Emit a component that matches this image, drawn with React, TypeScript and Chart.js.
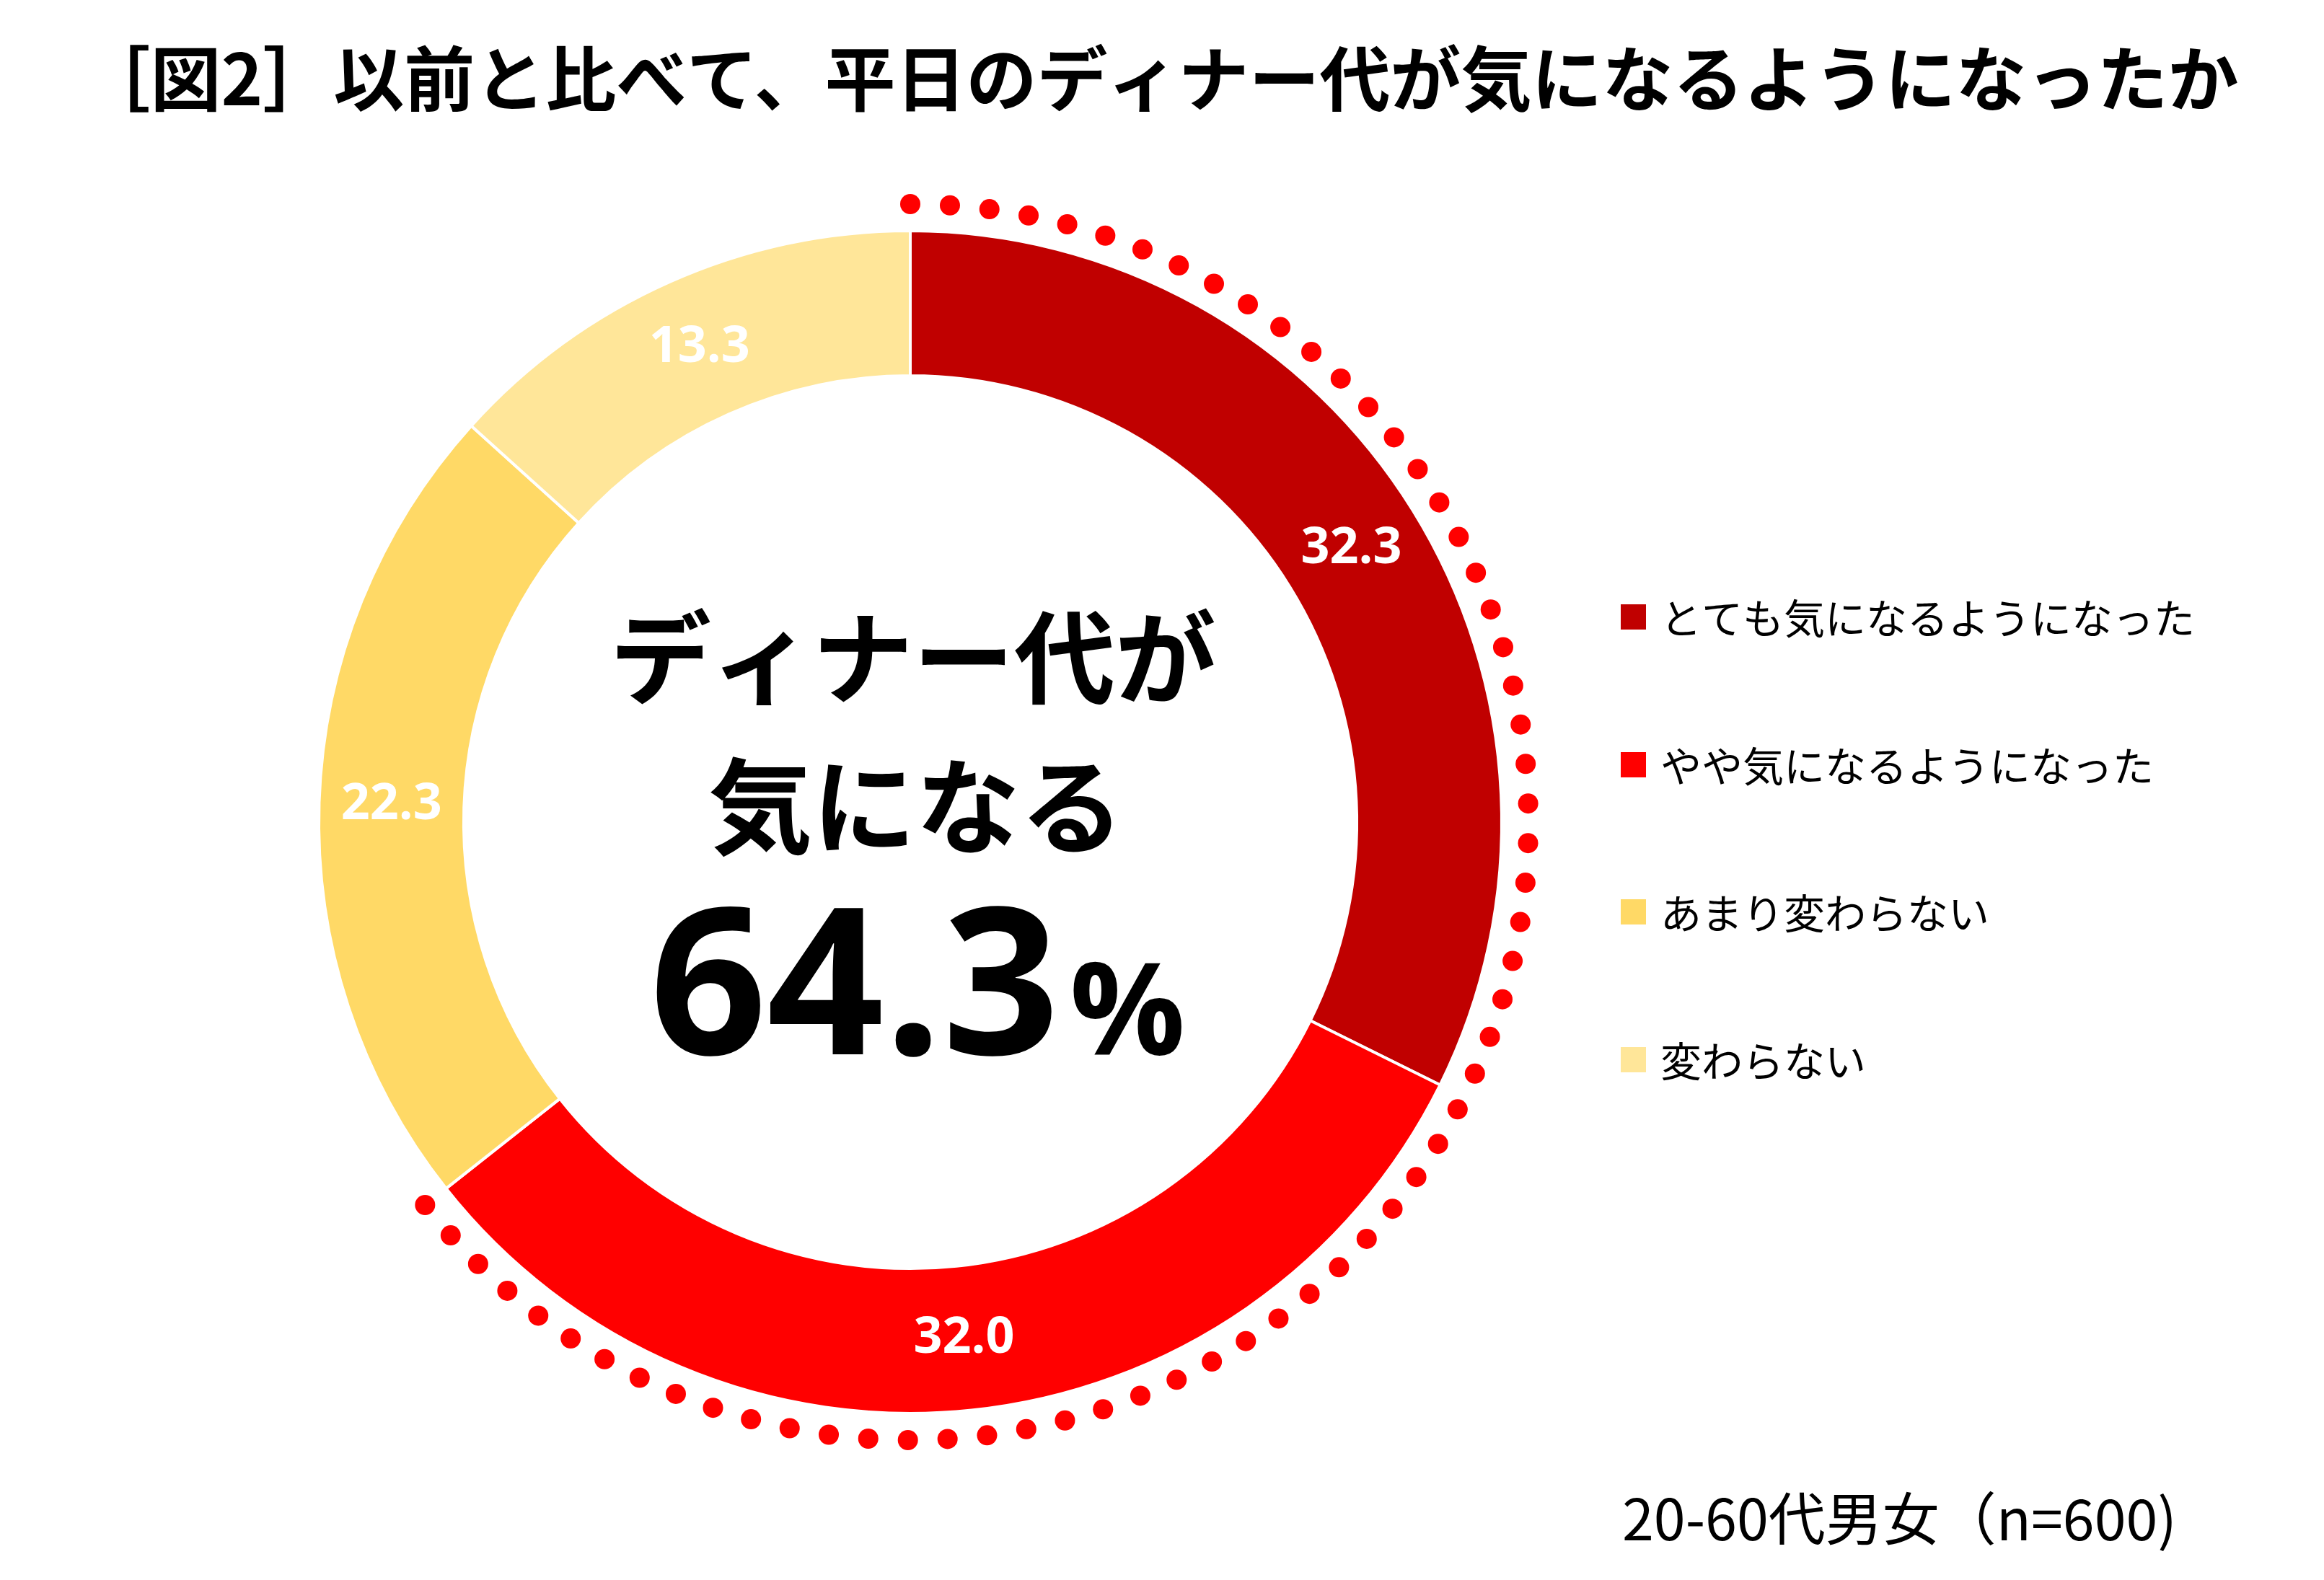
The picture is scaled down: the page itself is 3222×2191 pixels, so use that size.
import React, { useEffect, useRef } from "react";
import { Chart, registerables } from "chart.js";

Chart.register(...registerables);

const TITLE = "［図2］以前と比べて、平日のディナー代が気になるようになったか";
const categories = ["とても気になるようになった", "やや気になるようになった", "あまり変わらない", "変わらない"];
const values = [32.3, 32.0, 22.3, 13.3];
const colors = ["#C00000", "#FF0000", "#FFD966", "#FFE699"];
const centerLines = ["ディナー代が", "気になる"];
const highlightCount = 2;
const footnote = "20-60代男女（n=600)";

const JP = '"Noto Sans CJK JP", "Noto Sans", sans-serif';
const NUM = '"Open Sans", "Noto Sans", sans-serif';

const overlayPlugin = {
  id: "overlay",
  afterDatasetsDraw(chart: any) {
    const ctx = chart.ctx as CanvasRenderingContext2D;
    const meta = chart.getDatasetMeta(0);
    const arcs = meta.data as any[];
    if (!arcs.length) return;
    const cx = arcs[0].x;
    const cy = arcs[0].y;
    const outer = arcs[0].outerRadius;
    const inner = arcs[0].innerRadius;

    ctx.save();
    // data labels
    ctx.fillStyle = "#FFFFFF";
    ctx.font = `bold 70px ${NUM}`;
    ctx.textAlign = "center";
    ctx.textBaseline = "middle";
    arcs.forEach((a: any, i: number) => {
      const mid = (a.startAngle + a.endAngle) / 2;
      const r = (outer + inner) / 2;
      ctx.fillText(values[i].toFixed(1), cx + Math.cos(mid) * r, cy + Math.sin(mid) * r);
    });

    // dotted arc around highlighted slices
    const start = arcs[0].startAngle;
    const end = arcs[highlightCount - 1].endAngle;
    const dotR = outer + 37;
    const step = (3.67 * Math.PI) / 180;
    const n = Math.round((end - start) / step);
    const realStep = (end - start) / n;
    ctx.fillStyle = "#FF0000";
    for (let k = 0; k <= n; k++) {
      const ang = start + k * realStep;
      ctx.beginPath();
      ctx.arc(cx + Math.cos(ang) * dotR, cy + Math.sin(ang) * dotR, 14, 0, Math.PI * 2);
      ctx.fill();
    }

    // center text
    ctx.fillStyle = "#000000";
    ctx.font = `bold 140px ${JP}`;
    ctx.textAlign = "center";
    ctx.textBaseline = "middle";
    ctx.fillText(centerLines[0], cx + 4, 912);
    ctx.font = `bold 144px ${JP}`;
    ctx.fillText(centerLines[1], cx + 8, 1118);

    const total = values.slice(0, highlightCount).reduce((s, v) => s + v, 0).toFixed(1);
    ctx.textBaseline = "alphabetic";
    ctx.textAlign = "left";
    ctx.font = `bold 284px ${NUM}`;
    const w1 = ctx.measureText(total).width;
    ctx.font = `bold 178px ${NUM}`;
    const w2 = ctx.measureText("%").width;
    const gap = 14;
    const x0 = cx + 10 - (w1 + gap + w2) / 2;
    ctx.font = `bold 284px ${NUM}`;
    ctx.fillText(total, x0, 1462);
    ctx.font = `bold 178px ${NUM}`;
    ctx.fillText("%", x0 + w1 + gap, 1462);

    // title
    ctx.font = `bold 98px ${JP}`;
    ctx.textAlign = "center";
    ctx.textBaseline = "middle";
    ctx.fillText(TITLE, 1607, 109);

    // legend
    const ly = [855, 1060, 1264, 1469];
    categories.forEach((c, i) => {
      ctx.fillStyle = colors[i];
      ctx.fillRect(2247, ly[i] - 17, 35, 35);
      ctx.fillStyle = "#000000";
      ctx.font = `57px ${JP}`;
      ctx.textAlign = "left";
      ctx.textBaseline = "middle";
      ctx.fillText(c, 2302, ly[i] + 2);
    });

    // footnote
    ctx.font = `79px ${JP}`;
    ctx.textAlign = "left";
    ctx.textBaseline = "middle";
    ctx.fillText(footnote, 2249, 2106);
    ctx.restore();
  },
};

export default function App() {
  const ref = useRef<HTMLCanvasElement | null>(null);
  useEffect(() => {
    document.body.style.margin = "0";
    document.body.style.background = "#FFFFFF";
    if (!ref.current) return;
    const chart = new Chart(ref.current, {
      type: "doughnut",
      data: {
        labels: categories,
        datasets: [
          {
            data: values,
            backgroundColor: colors,
            borderColor: "#FFFFFF",
            borderWidth: 4,
          },
        ],
      },
      options: {
        responsive: false,
        maintainAspectRatio: false,
        animation: false,
        devicePixelRatio: 1,
        cutout: "75.5%",
        layout: { padding: { left: 440, top: 318, right: 1138, bottom: 229 } },
        plugins: {
          legend: { display: false },
          title: { display: false },
          tooltip: { enabled: false },
        },
      },
      plugins: [overlayPlugin],
    });
    return () => chart.destroy();
  }, []);
  return (
    <div style={{ width: 3222, height: 2191, background: "#FFFFFF" }}>
      <canvas ref={ref} width={3222} height={2191} style={{ display: "block" }} />
    </div>
  );
}
